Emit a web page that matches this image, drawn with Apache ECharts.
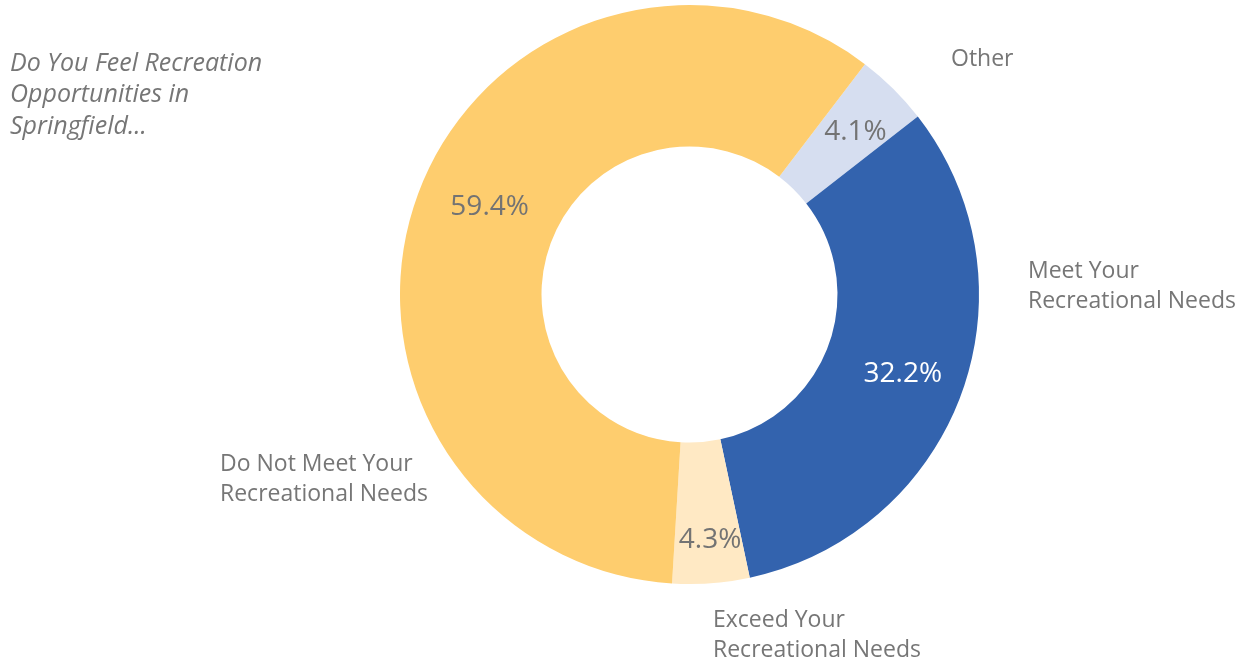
<!DOCTYPE html>
<html>
<head>
<meta charset="utf-8">
<title>Recreation Opportunities in Springfield</title>
<script src="https://cdn.jsdelivr.net/npm/echarts@6/dist/echarts.min.js"></script>
<style>
  html, body { margin: 0; padding: 0; background: #ffffff; }
  #chart { width: 1242px; height: 661px; }
</style>
</head>
<body>
<div id="chart"></div>
<script>
// Survey responses, in clockwise order starting just right of 12 o'clock
const categories = [
  'Other',
  'Meet Your\nRecreational Needs',
  'Exceed Your\nRecreational Needs',
  'Do Not Meet Your\nRecreational Needs'
];
const shares = [4.1, 32.2, 4.3, 59.4];
const sliceColors = ['#D6DEF0', '#3363AE', '#FFE9C4', '#FECD6E'];
const valueLabelColors = ['#737373', '#FFFFFF', '#737373', '#737373'];
const titleText = 'Do You Feel Recreation\nOpportunities in\nSpringfield...';

// Where each category name sits (left edge, vertical middle of the block)
const nameAnchors = [
  [951, 59],
  [1028, 286],
  [713, 635],
  [220, 479]
];
// Small nudges of the percentage labels away from the ring's mid-line
const valueNudges = [
  [10, -5],
  [5, 4],
  [4, 24],
  [8, -10]
];

const FONT = '"Open Sans", "Liberation Sans", sans-serif';
const TEXT_GREY = '#767676';

const center = [689.5, 294.5];
const radius = [148, 289.5];
const startAngle = 52.7;

const sliceData = categories.map((name, i) => ({
  name: name,
  value: shares[i],
  itemStyle: { color: sliceColors[i] },
  label: { color: valueLabelColors[i] }
}));

const nameData = categories.map((name, i) => ({
  name: name,
  value: shares[i]
}));

const chart = echarts.init(document.getElementById('chart'), null, { renderer: 'canvas' });
chart.setOption({
  backgroundColor: '#ffffff',
  animation: false,
  title: {
    text: titleText,
    left: 10,
    top: 48,
    padding: 0,
    textStyle: {
      fontFamily: FONT,
      fontStyle: 'italic',
      fontWeight: 'normal',
      fontSize: 25,
      lineHeight: 31.5,
      color: TEXT_GREY
    }
  },
  series: [
    {
      type: 'pie',
      center: center,
      radius: radius,
      startAngle: startAngle,
      clockwise: true,
      avoidLabelOverlap: false,
      silent: true,
      itemStyle: { borderWidth: 0 },
      label: {
        show: true,
        position: 'inside',
        fontFamily: FONT,
        fontSize: 28,
        formatter: p => p.value.toFixed(1) + '%'
      },
      labelLine: { show: false },
      labelLayout: params => ({
        dx: valueNudges[params.dataIndex][0],
        dy: valueNudges[params.dataIndex][1]
      }),
      data: sliceData
    },
    {
      // Category names, drawn on an invisible copy of the ring
      type: 'pie',
      center: center,
      radius: radius,
      startAngle: startAngle,
      clockwise: true,
      avoidLabelOverlap: false,
      silent: true,
      itemStyle: { color: 'rgba(0,0,0,0)' },
      label: {
        show: true,
        position: 'outside',
        fontFamily: FONT,
        fontSize: 23,
        lineHeight: 30,
        color: TEXT_GREY,
        align: 'left',
        formatter: p => p.name
      },
      labelLine: { show: false },
      labelLayout: params => ({
        x: nameAnchors[params.dataIndex][0],
        y: nameAnchors[params.dataIndex][1],
        align: 'left',
        verticalAlign: 'middle'
      }),
      data: nameData
    }
  ]
});
</script>
</body>
</html>
